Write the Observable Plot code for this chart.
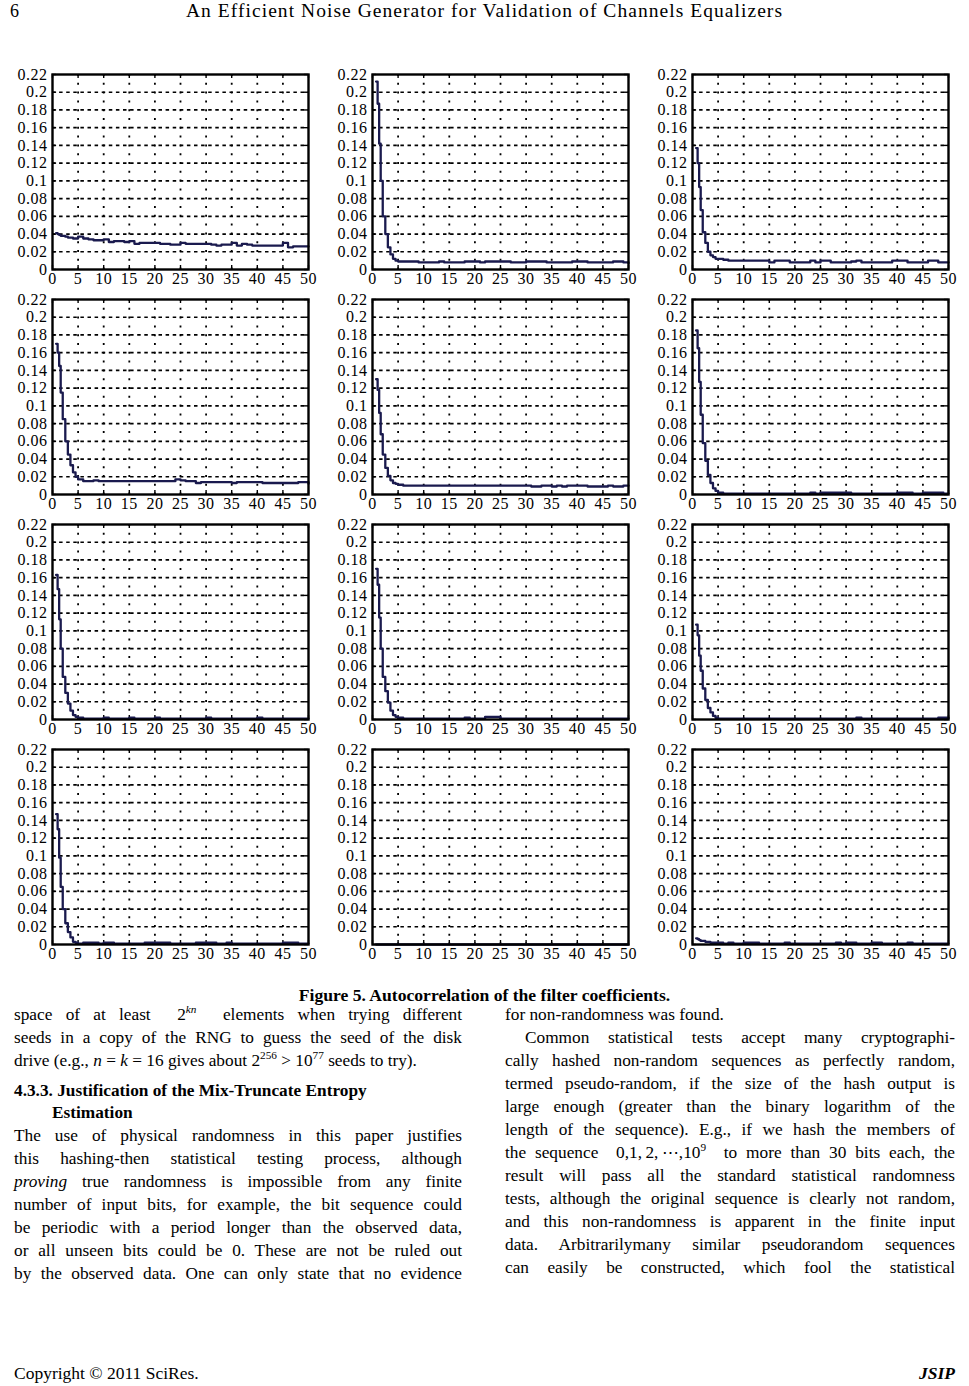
<!DOCTYPE html>
<html>
<head>
<meta charset="utf-8">
<script src="https://cdn.jsdelivr.net/npm/d3@7"></script>
<script src="https://cdn.jsdelivr.net/npm/@observablehq/plot@0.6"></script>
<style>
  html, body { margin: 0; padding: 0; background: #fff; }
  #page { position: relative; width: 969px; height: 1386px; background: #fff; color: #000;
          font-family: "Liberation Serif", "Times New Roman", serif; overflow: hidden; }
  .abs { position: absolute; white-space: nowrap; }
  .ln { position: absolute; height: 23px; line-height: 23px; font-size: 17.3px; white-space: nowrap; }
  .j { text-align: justify; text-align-last: justify; white-space: normal; }
  .panel { position: absolute; }
  sup { font-size: 65%; line-height: 0; vertical-align: 0.6em; }
</style>
</head>
<body>
<div id="page"></div>
<script>
// ---------------- data ----------------
const lags = [0.7, 1, 1.3, 1.6, 2, 2.5, 3, 3.5, 4, 4.5, 5,
  6, 7, 8, 9, 10, 11, 12, 13, 14, 15, 16, 17, 18, 19, 20, 21, 22, 23, 24, 25, 26, 27, 28,
  29, 30, 31, 32, 33, 34, 35, 36, 37, 38, 39, 40, 41, 42, 43, 44, 45, 46, 47, 48, 49, 50];

const acf_r1c1 = [0.041, 0.040, 0.039, 0.038, 0.038, 0.037, 0.036, 0.036, 0.035, 0.035, 0.037,
  0.035, 0.034, 0.033, 0.033, 0.034, 0.031, 0.032, 0.032, 0.031, 0.032, 0.029, 0.030, 0.030, 0.030, 0.030,
  0.029, 0.029, 0.028, 0.028, 0.030, 0.029, 0.029, 0.029, 0.029, 0.029, 0.028, 0.027, 0.028, 0.028, 0.030,
  0.027, 0.029, 0.028, 0.027, 0.027, 0.027, 0.027, 0.027, 0.027, 0.030, 0.025, 0.026, 0.026, 0.026, 0.026];
const acf_r1c2 = [0.212, 0.187, 0.142, 0.100, 0.060, 0.040, 0.025, 0.017, 0.012, 0.010, 0.009,
  0.009, 0.009, 0.009, 0.008, 0.008, 0.008, 0.008, 0.009, 0.008, 0.008, 0.008, 0.008, 0.009, 0.009, 0.009,
  0.008, 0.009, 0.009, 0.009, 0.009, 0.009, 0.008, 0.008, 0.008, 0.009, 0.009, 0.009, 0.009, 0.008, 0.008,
  0.008, 0.008, 0.008, 0.009, 0.009, 0.009, 0.008, 0.008, 0.008, 0.008, 0.008, 0.009, 0.009, 0.008, 0.007];
const acf_r1c3 = [0.137, 0.120, 0.093, 0.067, 0.042, 0.030, 0.020, 0.016, 0.014, 0.012, 0.012,
  0.011, 0.010, 0.010, 0.010, 0.010, 0.010, 0.010, 0.010, 0.010, 0.008, 0.010, 0.010, 0.010, 0.008, 0.008,
  0.008, 0.008, 0.010, 0.008, 0.010, 0.010, 0.008, 0.008, 0.008, 0.008, 0.009, 0.010, 0.008, 0.008, 0.008,
  0.008, 0.008, 0.008, 0.010, 0.010, 0.010, 0.008, 0.008, 0.008, 0.008, 0.010, 0.010, 0.008, 0.008, 0.008];
const acf_r2c1 = [0.170, 0.160, 0.145, 0.115, 0.085, 0.060, 0.045, 0.033, 0.025, 0.020, 0.017,
  0.015, 0.015, 0.016, 0.015, 0.015, 0.015, 0.015, 0.015, 0.015, 0.015, 0.015, 0.015, 0.015, 0.015, 0.015,
  0.015, 0.015, 0.015, 0.017, 0.016, 0.015, 0.015, 0.013, 0.014, 0.014, 0.014, 0.014, 0.014, 0.014, 0.013,
  0.014, 0.014, 0.014, 0.014, 0.014, 0.013, 0.013, 0.013, 0.013, 0.013, 0.013, 0.013, 0.014, 0.014, 0.012];
const acf_r2c2 = [0.130, 0.118, 0.092, 0.068, 0.045, 0.030, 0.021, 0.016, 0.013, 0.012, 0.011,
  0.010, 0.010, 0.010, 0.010, 0.010, 0.010, 0.010, 0.010, 0.010, 0.010, 0.010, 0.010, 0.010, 0.010, 0.010,
  0.010, 0.010, 0.010, 0.010, 0.010, 0.010, 0.010, 0.010, 0.010, 0.010, 0.009, 0.009, 0.010, 0.010, 0.009,
  0.010, 0.009, 0.010, 0.010, 0.010, 0.010, 0.009, 0.009, 0.009, 0.009, 0.010, 0.009, 0.009, 0.010, 0.010];
const acf_r2c3 = [0.185, 0.165, 0.127, 0.090, 0.058, 0.038, 0.022, 0.013, 0.007, 0.004, 0.002,
  0.001, 0.001, 0.001, 0.001, 0.001, 0.001, 0.001, 0.001, 0.001, 0.001, 0.001, 0.001, 0.001, 0.001, 0.001,
  0.001, 0.001, 0.002, 0.001, 0.002, 0.002, 0.002, 0.002, 0.002, 0.002, 0.001, 0.001, 0.001, 0.001, 0.001,
  0.001, 0.001, 0.001, 0.001, 0.002, 0.002, 0.002, 0.001, 0.001, 0.002, 0.002, 0.002, 0.002, 0.001, 0.001];
const acf_r3c1 = [0.163, 0.147, 0.113, 0.080, 0.048, 0.030, 0.018, 0.010, 0.005, 0.003, 0.002,
  0.001, 0.001, 0.001, 0.001, 0.002, 0.001, 0.001, 0.001, 0.001, 0.002, 0.001, 0.001, 0.001, 0.001, 0.002,
  0.001, 0.001, 0.001, 0.001, 0.001, 0.001, 0.001, 0.001, 0.001, 0.002, 0.001, 0.001, 0.001, 0.001, 0.001,
  0.001, 0.001, 0.001, 0.001, 0.002, 0.001, 0.001, 0.001, 0.001, 0.001, 0.001, 0.001, 0.001, 0.001, 0.001];
const acf_r3c2 = [0.170, 0.152, 0.115, 0.080, 0.048, 0.032, 0.019, 0.010, 0.005, 0.003, 0.002,
  0.001, 0.001, 0.001, 0.001, 0.001, 0.001, 0.001, 0.001, 0.001, 0.001, 0.001, 0.001, 0.002, 0.001, 0.001,
  0.001, 0.003, 0.003, 0.003, 0.001, 0.001, 0.001, 0.001, 0.001, 0.001, 0.001, 0.001, 0.001, 0.001, 0.001,
  0.001, 0.001, 0.001, 0.001, 0.001, 0.001, 0.001, 0.001, 0.001, 0.001, 0.001, 0.001, 0.001, 0.001, 0.001];
const acf_r3c3 = [0.107, 0.095, 0.072, 0.055, 0.035, 0.022, 0.013, 0.008, 0.004, 0.002, 0.001,
  0.001, 0.001, 0.001, 0.001, 0.001, 0.001, 0.001, 0.001, 0.001, 0.001, 0.001, 0.001, 0.001, 0.001, 0.001,
  0.001, 0.001, 0.001, 0.001, 0.001, 0.001, 0.001, 0.001, 0.001, 0.001, 0.001, 0.002, 0.001, 0.001, 0.001,
  0.001, 0.001, 0.001, 0.001, 0.001, 0.001, 0.001, 0.001, 0.001, 0.001, 0.001, 0.001, 0.002, 0.002, 0.001];
const acf_r4c1 = [0.147, 0.130, 0.098, 0.065, 0.040, 0.024, 0.014, 0.008, 0.003, 0.002, 0.001,
  0.002, 0.002, 0.002, 0.001, 0.002, 0.002, 0.001, 0.001, 0.001, 0.001, 0.001, 0.001, 0.002, 0.002, 0.002,
  0.002, 0.002, 0.001, 0.001, 0.001, 0.001, 0.001, 0.002, 0.002, 0.002, 0.002, 0.001, 0.001, 0.002, 0.001,
  0.001, 0.001, 0.001, 0.001, 0.001, 0.001, 0.001, 0.001, 0.001, 0.002, 0.002, 0.002, 0.001, 0.001, 0.001];
const acf_r4c2 = [0, 0, 0, 0, 0, 0, 0, 0, 0, 0, 0,
  0, 0, 0, 0, 0, 0, 0, 0, 0, 0, 0, 0, 0, 0, 0, 0, 0, 0, 0, 0, 0, 0, 0, 0, 0, 0, 0, 0, 0, 0,
  0, 0, 0, 0, 0, 0, 0, 0, 0, 0, 0, 0, 0, 0, 0];
const acf_r4c3 = [0.007, 0.006, 0.005, 0.004, 0.004, 0.003, 0.003, 0.002, 0.002, 0.002, 0.002,
  0.001, 0.002, 0.001, 0.001, 0.002, 0.002, 0.002, 0.001, 0.001, 0.001, 0.001, 0.001, 0.002, 0.001, 0.001,
  0.001, 0.001, 0.001, 0.001, 0.001, 0.001, 0.001, 0.002, 0.001, 0.002, 0.002, 0.001, 0.001, 0.001, 0.002,
  0.002, 0.001, 0.001, 0.001, 0.001, 0.001, 0.002, 0.001, 0.001, 0.001, 0.001, 0.001, 0.001, 0.001, 0.001];

const panels = [
  [acf_r1c1, acf_r1c2, acf_r1c3],
  [acf_r2c1, acf_r2c2, acf_r2c3],
  [acf_r3c1, acf_r3c2, acf_r3c3],
  [acf_r4c1, acf_r4c2, acf_r4c3]
];

const xTicks = [0, 5, 10, 15, 20, 25, 30, 35, 40, 45, 50];
const xTickLabels = ["0", "5", "10", "15", "20", "25", "30", "35", "40", "45", "50"];
const yTicks = [0, 0.02, 0.04, 0.06, 0.08, 0.1, 0.12, 0.14, 0.16, 0.18, 0.2, 0.22];
const yTickLabels = ["0", "0.02", "0.04", "0.06", "0.08", "0.1", "0.12", "0.14", "0.16", "0.18", "0.2", "0.22"];

const headerTitle = "An Efficient Noise Generator for Validation of Channels Equalizers";
const pageNumber = "6";
const figureCaption = "Figure 5. Autocorrelation of the filter coefficients.";

// ---------------- layout ----------------
const page = document.getElementById("page");
const colLeft = [52, 372, 692];
const rowTop = [74, 299, 524, 749];
const plotW = 256, plotH = 195;
const mL = 50, mR = 8, mT = 8, mB = 24;

const xLab = new Map(xTicks.map((t, i) => [t, xTickLabels[i]]));
const yLab = new Map(yTicks.map((t, i) => [t, yTickLabels[i]]));
const gridY = yTicks.filter(t => t > 0 && t < 0.22);
const gridX = xTicks.filter(t => t > 0 && t < 50);

panels.forEach((row, r) => row.forEach((vals, c) => {
  const data = lags.map((lag, i) => ({lag, v: vals[i]}));
  const chart = Plot.plot({
    width: plotW + mL + mR,
    height: plotH + mT + mB,
    marginLeft: mL, marginRight: mR, marginTop: mT, marginBottom: mB,
    x: {domain: [0, 50], label: null},
    y: {domain: [0, 0.22], label: null},
    style: {fontFamily: "'Liberation Serif', 'Times New Roman', serif", fontSize: "16px",
            color: "#000", background: "transparent", overflow: "visible", letterSpacing: "0.5px"},
    marks: [
      Plot.ruleY(gridY, {stroke: "#000", strokeWidth: 1.7, strokeDasharray: "3.5,3.6"}),
      Plot.ruleX(gridX, {stroke: "#000", strokeWidth: 1.8, strokeDasharray: "2,6.8"}),
      Plot.ruleX(xTicks, {y1: 0.22, y2: 0.2155, stroke: "#000", strokeWidth: 1.4}),
      Plot.ruleX(xTicks, {y1: 0, y2: 0.0045, stroke: "#000", strokeWidth: 1.4}),
      Plot.ruleY(yTicks, {x1: 0, x2: 0.8, stroke: "#000", strokeWidth: 1.4}),
      Plot.ruleY(yTicks, {x1: 50, x2: 49.2, stroke: "#000", strokeWidth: 1.4}),
      Plot.line(data, {x: "lag", y: "v", curve: "step-after", stroke: "#1a1a4e", strokeWidth: 2.3}),
      Plot.frame({stroke: "#000", strokeWidth: 2.4}),
      Plot.axisX(xTicks, {tickSize: 0, tickPadding: 3, tickFormat: d => xLab.get(d), label: null, fontSize: 16}),
      Plot.axisY(yTicks, {tickSize: 0, tickPadding: 5, tickFormat: d => yLab.get(d), label: null, fontSize: 16})
    ]
  });
  chart.classList.add("panel");
  chart.style.left = (colLeft[c] - mL) + "px";
  chart.style.top = (rowTop[r] - mT) + "px";
  page.appendChild(chart);
}));

// ---------------- text ----------------
function add(html, style, cls = "abs") {
  const d = document.createElement("div");
  d.className = cls;
  d.innerHTML = html;
  Object.assign(d.style, style);
  page.appendChild(d);
  return d;
}

// header
add(pageNumber, {left: "10px", top: "1px", fontSize: "18px", lineHeight: "20px"});
add(headerTitle, {left: "0px", width: "969px", textAlign: "center", top: "1px", fontSize: "19.5px",
  lineHeight: "20px", letterSpacing: "1.05px"});

// caption
add(figureCaption, {left: "0px", width: "969px", textAlign: "center", top: "984px", fontSize: "17.6px",
  fontWeight: "bold", lineHeight: "22px"});

// body columns
const leftLines = [
  [1014, 'space of at least &nbsp;2<sup><i>kn</i></sup>&nbsp; elements when trying different', true],
  [1037, 'seeds in a copy of the RNG to guess the seed of the disk', true],
  [1060, 'drive (e.g., <i>n</i> = <i>k</i> = 16 gives about 2<sup>256</sup> &gt; 10<sup>77</sup> seeds to try).', false],
  [1135, 'The use of physical randomness in this paper justifies', true],
  [1158, 'this hashing-then statistical testing process, although', true],
  [1181, '<i>proving</i> true randomness is impossible from any finite', true],
  [1204, 'number of input bits, for example, the bit sequence could', true],
  [1227, 'be periodic with a period longer than the observed data,', true],
  [1250, 'or all unseen bits could be 0. These are not be ruled out', true],
  [1273, 'by the observed data. One can only state that no evidence', true]
];
const rightLines = [
  [1014, 'for non-randomness was found.', false, 0],
  [1037, 'Common statistical tests accept many cryptographi-', true, 20],
  [1060, 'cally hashed non-random sequences as perfectly random,', true, 0],
  [1083, 'termed pseudo-random, if the size of the hash output is', true, 0],
  [1106, 'large enough (greater than the binary logarithm of the', true, 0],
  [1129, 'length of the sequence). E.g., if we hash the members of', true, 0],
  [1152, 'the sequence &nbsp;0,1,&thinsp;2,&thinsp;⋯,10<sup>9</sup>&nbsp; to more than 30 bits each, the', true, 0],
  [1175, 'result will pass all the standard statistical randomness', true, 0],
  [1198, 'tests, although the original sequence is clearly not random,', true, 0],
  [1221, 'and this non-randomness is apparent in the finite input', true, 0],
  [1244, 'data. Arbitrarilymany similar pseudorandom sequences', true, 0],
  [1267, 'can easily be constructed, which fool the statistical', true, 0]
];
leftLines.forEach(([y, html, just]) => {
  add(html, {left: "14px", width: "448px", top: (y - 11.5) + "px"}, "ln" + (just ? " j" : ""));
});
rightLines.forEach(([y, html, just, ind]) => {
  add(html, {left: (505 + ind) + "px", width: (450 - ind) + "px", top: (y - 11.5) + "px"}, "ln" + (just ? " j" : ""));
});
// section heading
add('4.3.3. Justification of the Mix-Truncate Entropy', {left: "14px", top: (1090 - 11.5) + "px", fontWeight: "bold"}, "ln");
add('Estimation', {left: "52px", top: (1112 - 11.5) + "px", fontWeight: "bold"}, "ln");

// footer
add('Copyright © 2011 SciRes.', {left: "14px", top: "1362px", fontSize: "17.5px", lineHeight: "22px"});
add('JSIP', {right: "14px", top: "1362px", fontSize: "17.5px", lineHeight: "22px", fontWeight: "bold", fontStyle: "italic"});
</script>
</body>
</html>
